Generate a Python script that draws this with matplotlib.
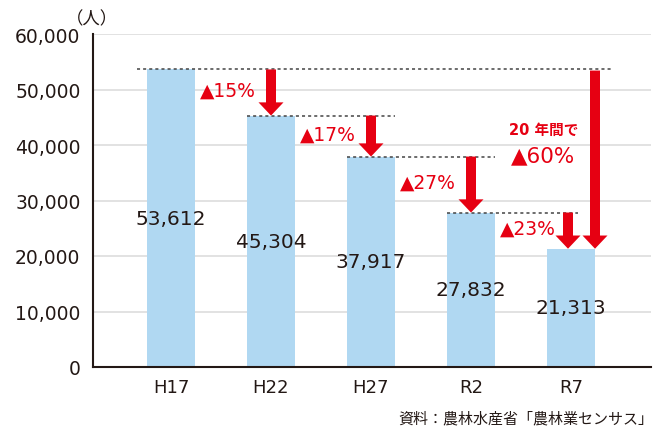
import matplotlib
matplotlib.use("Agg")
import matplotlib.pyplot as plt

categories = ["H17", "H22", "H27", "R2", "R7"]
values = [53612, 45304, 37917, 27832, 21313]
value_labels = ["53,612", "45,304", "37,917", "27,832", "21,313"]
change_labels = ["▲15%", "▲17%", "▲27%", "▲23%"]
total_label_top = "20 年間で"
total_label = "▲60%"
yticks = [0, 10000, 20000, 30000, 40000, 50000, 60000]
ytick_labels = ["0", "10,000", "20,000", "30,000", "40,000", "50,000", "60,000"]
unit_label = "（人）"
source_label = "資料：農林水産省「農林業センサス」"

RED = "#E60012"
BLUE = "#B0D8F2"
INK = "#231815"
FONT = ["DejaVu Sans", "Noto Sans CJK JP"]
JP = ["Noto Sans CJK JP", "DejaVu Sans"]

plt.rcParams["font.family"] = FONT

fig = plt.figure(figsize=(6.57, 4.27), dpi=100)
ax = fig.add_axes([93/657, 59/427, (651-93)/657, (368-35)/427])

x = list(range(len(categories)))
ax.bar(x, values, width=0.48, color=BLUE, zorder=2)

ax.set_xlim(-0.78, 4.8)
ax.set_ylim(0, 60000)
ax.set_yticks(yticks)
ax.set_yticklabels(ytick_labels)
ax.set_xticks(x)
ax.set_xticklabels(categories)
ax.tick_params(axis="y", length=0, pad=9, labelsize=13.5, labelcolor=INK)
ax.tick_params(axis="x", length=0, pad=8, labelsize=13, labelcolor=INK)
ax.yaxis.grid(True, color="#DDDDDD", linewidth=1.2, zorder=0)
ax.set_axisbelow(True)
for s in ["top", "right"]:
    ax.spines[s].set_visible(False)
for s in ["left", "bottom"]:
    ax.spines[s].set_color(INK)
    ax.spines[s].set_linewidth(1.5)
    ax.spines[s].set_zorder(5)

# value labels inside bars
for i, (v, lab) in enumerate(zip(values, value_labels)):
    ax.text(i, v / 2, lab, ha="center", va="center", fontsize=14.5, color=INK, zorder=6)

# dotted reference lines at the top of each bar
line_spans = [(-0.34, 4.41), (0.76, 2.24), (1.76, 3.24), (2.76, 4.07)]
for i, (x0, x1) in enumerate(line_spans):
    ax.plot([x0, x1], [values[i], values[i]], linestyle=(0, (2, 2)), color="#444444",
            linewidth=1.1, zorder=4)

def down_arrow(xpos, y0, y1):
    ax.annotate("", xy=(xpos, y1), xytext=(xpos, y0),
                arrowprops=dict(arrowstyle="simple,head_width=1.8,head_length=0.95,tail_width=0.72",
                                color=RED, shrinkA=0, shrinkB=0, mutation_scale=10, lw=0),
                zorder=7)

arrow_x = [1, 2, 3, 3.97]
for i in range(4):
    down_arrow(arrow_x[i], values[i], values[i + 1])
    ymid = (values[i] + values[i + 1]) / 2
    ax.text(i + 0.29, ymid + 400, change_labels[i], ha="left", va="center",
            fontsize=13.5, color=RED, zorder=7)

# 20-year total arrow
down_arrow(4.24, values[0] - 200, values[-1])
ax.text(3.725, 42800, total_label_top, ha="center", va="center", fontsize=10.5,
        fontweight="bold", color=RED, family=FONT, zorder=7)
ax.text(3.725, 38100, total_label, ha="center", va="center", fontsize=15.5,
        color=RED, zorder=7)

fig.text(92/657, 1 - 19/427, unit_label, ha="center", va="center", fontsize=12.5,
         color=INK, family=JP)
fig.text(653/657, 1 - 419/427, source_label, ha="right", va="center", fontsize=10.8,
         color=INK, family=JP)

fig.savefig("out.png", dpi=100)
